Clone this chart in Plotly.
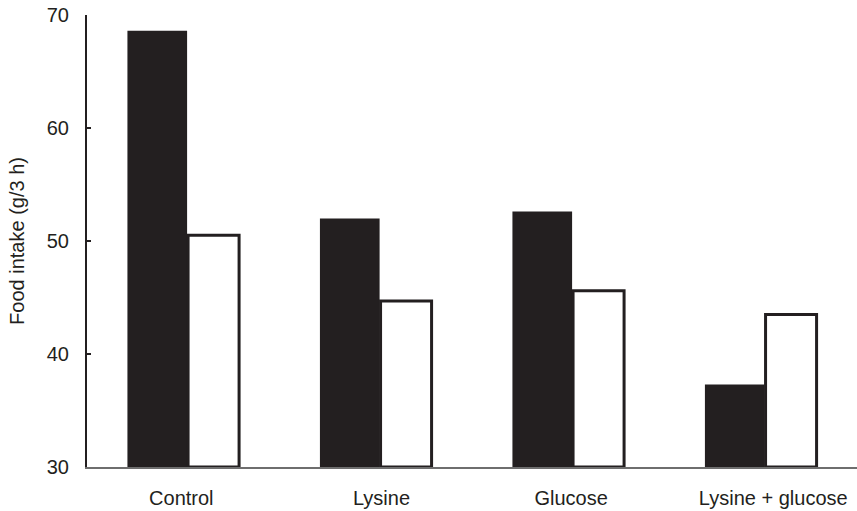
import plotly.graph_objects as go

categories = ["Control", "Lysine", "Glucose", "Lysine + glucose"]
black_values = [68.6, 52.0, 52.6, 37.3]
white_values = [50.5, 44.7, 45.6, 43.5]
y_ticks = [30, 40, 50, 60, 70]
y_title = "Food intake (g/3 h)"

BASE = 30
INK = "#231f20"
FONT = dict(family="Liberation Sans, Arial, Helvetica, sans-serif", size=20, color=INK)

# category positions on the x axis, and small label nudges as in the original figure
positions = list(range(len(categories)))
label_nudge = [-0.01, 0.03, 0.015, 0.065]
label_positions = [p + n for p, n in zip(positions, label_nudge)]

fig = go.Figure()
fig.add_trace(go.Bar(
    x=positions, y=[v - BASE for v in black_values], base=BASE,
    offset=-0.29, width=0.31,
    marker=dict(color=INK, line=dict(width=0)),
    cliponaxis=False, showlegend=False,
))
fig.add_trace(go.Bar(
    x=positions, y=[v - BASE for v in white_values], base=BASE,
    offset=0.025, width=0.265,
    marker=dict(color="white", line=dict(color=INK, width=3)),
    cliponaxis=False, showlegend=False,
))

fig.update_layout(
    template="none",
    width=857, height=511,
    margin=dict(l=87, r=0, t=15, b=44),
    barmode="overlay",
    plot_bgcolor="white", paper_bgcolor="white",
    font=FONT,
    showlegend=False,
)
fig.update_xaxes(
    range=[-0.5, 3.5], tickvals=label_positions, ticktext=categories,
    showline=True, linecolor="#6e6e6e", linewidth=1.5,
    ticks="", showgrid=False, zeroline=False, ticklabelstandoff=12,
    automargin=False,
)
fig.update_yaxes(
    range=[30, 70], tickvals=y_ticks, showline=True, linecolor=INK, linewidth=2,
    ticks="inside", ticklen=4, tickwidth=2, tickcolor=INK,
    showgrid=False, zeroline=False, ticklabelstandoff=12,
    ticklabeloverflow="allow", automargin=False,
    title=dict(text=y_title, standoff=17, font=FONT),
)

fig.write_html(
    "out.html",
    config={"displayModeBar": False},
    post_script="document.body.style.margin='0';",
)
